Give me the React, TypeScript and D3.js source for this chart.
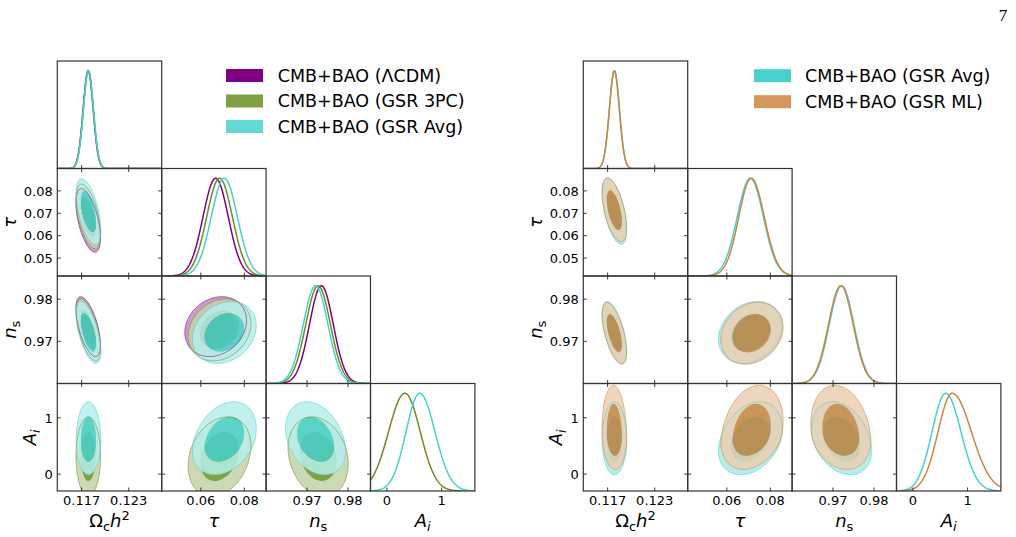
import React from "react";
import * as d3 from "d3";

// ---------- data ----------
const paramNames = ["omch2", "tau", "ns", "Ai"];
const paramMin = [0.1139, 0.042, 0.96, -0.3];
const paramMax = [0.1272, 0.09, 0.9855, 1.61];
const xTickValues = [[0.117, 0.123], [0.06, 0.08], [0.97, 0.98], [0, 1]];
const xTickLabels = [["0.117", "0.123"], ["0.06", "0.08"], ["0.97", "0.98"], ["0", "1"]];
const yTickValues = [[], [0.05, 0.06, 0.07, 0.08], [0.97, 0.98], [0, 1]];
const yTickLabels = [[], ["0.05", "0.06", "0.07", "0.08"], ["0.97", "0.98"], ["0", "1"]];
const yTickLabelWidth = [0, 28.7, 28.7, 8.3];

// correlation pair order
const pairList = [[0, 1], [0, 2], [1, 2], [0, 3], [1, 3], [2, 3]];
const contourLevels = [0.95, 0.68];

const seriesNames = ["CMB+BAO (ΛCDM)", "CMB+BAO (GSR 3PC)", "CMB+BAO (GSR Avg)", "CMB+BAO (GSR ML)"];
const seriesColors = ["#800080", "#6b8e23", "#48d1cc", "#cd853f"];

const lcdmMean = [0.11783, 0.0668, 0.9735, NaN];
const lcdmSigLo = [0.00064, 0.0058, 0.0029, NaN];
const lcdmSigHi = [0.00064, 0.0058, 0.0029, NaN];
const lcdmCorr = [-0.55, -0.6, 0.2, 0, 0, 0];

const gsr3pcMean = [0.11785, 0.0686, 0.9727, 0.33];
const gsr3pcSigLo = [0.00064, 0.0059, 0.003, 0.3];
const gsr3pcSigHi = [0.00064, 0.0059, 0.003, 0.28];
const gsr3pcCorr = [-0.55, -0.6, 0.2, 0, 0.25, -0.2];

const gsrAvgMean = [0.11787, 0.0708, 0.9721, 0.6];
const gsrAvgSigLo = [0.00064, 0.006, 0.003, 0.25];
const gsrAvgSigHi = [0.00064, 0.006, 0.003, 0.28];
const gsrAvgCorr = [-0.55, -0.6, 0.22, 0, 0.3, -0.3];

const gsrMlMean = [0.11785, 0.0712, 0.9719, 0.72];
const gsrMlSigLo = [0.00064, 0.0057, 0.003, 0.26];
const gsrMlSigHi = [0.00064, 0.006, 0.003, 0.35];
const gsrMlCorr = [-0.55, -0.6, 0.2, -0.08, 0.25, -0.2];

const allSeries = [
  { name: seriesNames[0], color: seriesColors[0], mean: lcdmMean, lo: lcdmSigLo, hi: lcdmSigHi, corr: lcdmCorr },
  { name: seriesNames[1], color: seriesColors[1], mean: gsr3pcMean, lo: gsr3pcSigLo, hi: gsr3pcSigHi, corr: gsr3pcCorr },
  { name: seriesNames[2], color: seriesColors[2], mean: gsrAvgMean, lo: gsrAvgSigLo, hi: gsrAvgSigHi, corr: gsrAvgCorr },
  { name: seriesNames[3], color: seriesColors[3], mean: gsrMlMean, lo: gsrMlSigLo, hi: gsrMlSigHi, corr: gsrMlCorr },
];

// ---------- layout ----------
const W = 1016, H = 537;
const PW = 104.4, PH = 107.5, Y0 = 61;
const TICK = 3.5;
const FONT = "DejaVu Sans";

function pale(c: string) {
  return d3.interpolateRgb(c, "#ffffff")(0.6);
}

function density(x: number, mu: number, lo: number, hi: number) {
  const s = x < mu ? lo : hi;
  return Math.exp(-0.5 * ((x - mu) / s) ** 2);
}

function corrFor(s: any, i: number, j: number) {
  const k = pairList.findIndex((p) => p[0] === i && p[1] === j);
  return k >= 0 ? s.corr[k] : 0;
}

function contourPoints(s: any, i: number, j: number, level: number) {
  const r = Math.sqrt(-2 * Math.log(1 - level));
  const rho = corrFor(s, i, j);
  const q = Math.sqrt(1 - rho * rho);
  return d3.range(0, 160).map((k) => {
    const t = (k / 160) * Math.PI * 2;
    const u = r * Math.cos(t);
    const w = r * Math.sin(t);
    const zx = u;
    const zy = rho * u + q * w;
    const x = s.mean[i] + zx * (zx < 0 ? s.lo[i] : s.hi[i]);
    const y = s.mean[j] + zy * (zy < 0 ? s.lo[j] : s.hi[j]);
    return [x, y] as [number, number];
  });
}

function Triangle({ x0, seriesIdx, uid }: { x0: number; seriesIdx: number[]; uid: string }) {
  const xs = paramNames.map((_, i) =>
    d3.scaleLinear().domain([paramMin[i], paramMax[i]]).range([x0 + i * PW, x0 + (i + 1) * PW])
  );
  const ys = paramNames.map((_, i) =>
    d3.scaleLinear().domain([paramMin[i], paramMax[i]]).range([Y0 + (i + 1) * PH, Y0 + i * PH])
  );
  const series = seriesIdx.map((k) => allSeries[k]);
  const panels: any[] = [];
  const n = paramNames.length;

  for (let r = 0; r < n; r++) {
    for (let c = 0; c <= r; c++) {
      const px = x0 + c * PW, py = Y0 + r * PH;
      const clipId = `${uid}-clip-${r}-${c}`;
      const content: any[] = [];
      const ticks: any[] = [];
      if (r === c) {
        const yd = d3.scaleLinear().domain([0, 1.1]).range([py + PH, py]);
        const xsamp = d3.range(0, 241).map((k) => paramMin[c] + ((paramMax[c] - paramMin[c]) * k) / 240);
        series.forEach((s, si) => {
          if (isNaN(s.mean[c])) return;
          const line = d3
            .line<number>()
            .x((v) => xs[c](v))
            .y((v) => yd(density(v, s.mean[c], s.lo[c], s.hi[c])));
          content.push(
            <path key={`l${si}`} d={line(xsamp) || ""} fill="none" stroke={s.color} strokeWidth={1.5} />
          );
        });
        xTickValues[c].forEach((v, k) => {
          const tx = xs[c](v);
          ticks.push(<line key={`bx${k}`} x1={tx} x2={tx} y1={py + PH} y2={py + PH - TICK} stroke="#222" strokeWidth={0.9} />);
        });
      } else {
        const fills: any[] = [];
        const strokes: any[] = [];
        const lineGen = d3
          .line<[number, number]>()
          .x((p) => xs[c](p[0]))
          .y((p) => ys[r](p[1]))
          .curve(d3.curveLinearClosed);
        series.forEach((s, si) => {
          if (isNaN(s.mean[c]) || isNaN(s.mean[r])) return;
          const alpha = si === 0 ? 1 : 0.85;
          const outer = lineGen(contourPoints(s, c, r, contourLevels[0])) || "";
          const inner = lineGen(contourPoints(s, c, r, contourLevels[1])) || "";
          fills.push(
            <path key={`o${si}`} d={outer + inner} fill={pale(s.color)} fillOpacity={alpha} fillRule="evenodd" />
          );
          fills.push(<path key={`i${si}`} d={inner} fill={s.color} fillOpacity={alpha} />);
          strokes.push(
            <path key={`s${si}`} d={outer} fill="none" stroke={s.color} strokeOpacity={0.6} strokeWidth={0.9} />
          );
        });
        content.push(...fills, ...strokes);
        xTickValues[c].forEach((v, k) => {
          const tx = xs[c](v);
          ticks.push(<line key={`bx${k}`} x1={tx} x2={tx} y1={py + PH} y2={py + PH - TICK} stroke="#222" strokeWidth={0.9} />);
          ticks.push(<line key={`tx${k}`} x1={tx} x2={tx} y1={py} y2={py + TICK} stroke="#222" strokeWidth={0.9} />);
        });
        yTickValues[r].forEach((v, k) => {
          const ty = ys[r](v);
          ticks.push(<line key={`ly${k}`} x1={px} x2={px + TICK} y1={ty} y2={ty} stroke="#222" strokeWidth={0.9} />);
          ticks.push(<line key={`ry${k}`} x1={px + PW} x2={px + PW - TICK} y1={ty} y2={ty} stroke="#222" strokeWidth={0.9} />);
        });
      }
      panels.push(
        <g key={`p${r}-${c}`}>
          <clipPath id={clipId}>
            <rect x={px} y={py} width={PW} height={PH} />
          </clipPath>
          <g clipPath={`url(#${clipId})`}>{content}</g>
          {ticks}
          <rect x={px} y={py} width={PW} height={PH} fill="none" stroke="#333" strokeWidth={1.2} />
        </g>
      );
    }
  }

  // tick labels
  const labels: any[] = [];
  const bottom = Y0 + n * PH;
  for (let c = 0; c < n; c++) {
    xTickValues[c].forEach((v, k) => {
      labels.push(
        <text key={`xl${c}-${k}`} x={xs[c](v)} y={bottom + 13.5} textAnchor="middle" fontSize={13} fill="#000">
          {xTickLabels[c][k]}
        </text>
      );
    });
  }
  for (let r = 1; r < n; r++) {
    yTickValues[r].forEach((v, k) => {
      labels.push(
        <text key={`yl${r}-${k}`} x={x0 - 4.6} y={ys[r](v) + 4.7} textAnchor="end" fontSize={13} fill="#000">
          {yTickLabels[r][k]}
        </text>
      );
    });
  }

  // axis labels
  const xlY = 527;
  const cx = (i: number) => x0 + (i + 0.5) * PW;
  const ylX = (r: number) => x0 - 4.6 - yTickLabelWidth[r] - 8;
  const cy = (r: number) => Y0 + (r + 0.5) * PH;

  return (
    <g>
      {panels}
      {labels}
      <text x={cx(0)} y={xlY} textAnchor="middle" fontSize={18}>
        <tspan>Ω</tspan>
        <tspan fontSize={13} dy={4}>c</tspan>
        <tspan dy={-4} fontStyle="italic">h</tspan>
        <tspan fontSize={13} dy={-7}>2</tspan>
      </text>
      <text x={cx(1)} y={xlY} textAnchor="middle" fontSize={18} fontStyle="italic">τ</text>
      <text x={cx(2)} y={xlY} textAnchor="middle" fontSize={18}>
        <tspan fontStyle="italic">n</tspan>
        <tspan fontSize={13} dy={3.5}>s</tspan>
      </text>
      <text x={cx(3)} y={xlY} textAnchor="middle" fontSize={18}>
        <tspan fontStyle="italic">A</tspan>
        <tspan fontSize={13} dy={3.5} fontStyle="italic">i</tspan>
      </text>
      <text transform={`translate(${ylX(1)},${cy(1)}) rotate(-90)`} textAnchor="middle" fontSize={18} fontStyle="italic">τ</text>
      <text transform={`translate(${ylX(2)},${cy(2)}) rotate(-90)`} textAnchor="middle" fontSize={18}>
        <tspan fontStyle="italic">n</tspan>
        <tspan fontSize={13} dy={3.5}>s</tspan>
      </text>
      <text transform={`translate(${ylX(3)},${cy(3)}) rotate(-90)`} textAnchor="middle" fontSize={18}>
        <tspan fontStyle="italic">A</tspan>
        <tspan fontSize={13} dy={3.5} fontStyle="italic">i</tspan>
      </text>
    </g>
  );
}

function Legend({ x, textX, ys, seriesIdx }: { x: number; textX: number; ys: number[]; seriesIdx: number[] }) {
  return (
    <g>
      {seriesIdx.map((k, i) => (
        <g key={k}>
          <rect x={x} y={ys[i] - 6.5} width={37} height={13} fill={allSeries[k].color} fillOpacity={i === 0 ? 1 : 0.85} />
          <text x={textX} y={ys[i] + 6} fontSize={17.5} fill="#000">
            {allSeries[k].name}
          </text>
        </g>
      ))}
    </g>
  );
}

export default function App() {
  const leftSeries = [0, 1, 2];
  const rightSeries = [2, 3];
  return (
    <svg
      width={W}
      height={H}
      viewBox={`0 0 ${W} ${H}`}
      style={{ position: "absolute", left: 0, top: 0, background: "#fff" }}
      fontFamily={FONT}
    >
      <rect x={0} y={0} width={W} height={H} fill="#fff" />
      <text x={1003} y={21} textAnchor="middle" fontSize={17} fontFamily="Liberation Serif">7</text>
      <Triangle x0={57.3} seriesIdx={leftSeries} uid="L" />
      <Triangle x0={583.3} seriesIdx={rightSeries} uid="R" />
      <Legend x={226} textX={277.7} ys={[75.5, 101, 126.5]} seriesIdx={leftSeries} />
      <Legend x={754} textX={805} ys={[75.7, 101.7]} seriesIdx={rightSeries} />
    </svg>
  );
}
